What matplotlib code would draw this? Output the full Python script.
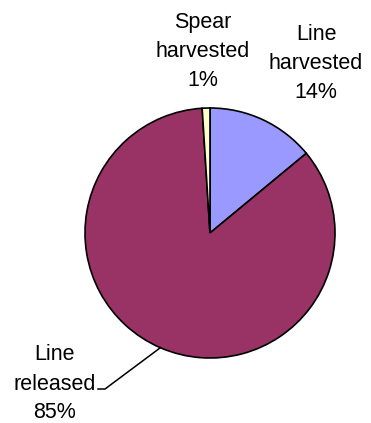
import numpy as np
import matplotlib.pyplot as plt

# Catch disposition shares (percent)
categories = ['Line harvested', 'Line released', 'Spear harvested']
shares = [14, 85, 1]
colors = ['#9999FF', '#993366', '#FFFFCC']

W, H = 371, 423
fig = plt.figure(figsize=(W / 100, H / 100), dpi=100)
ax = fig.add_axes([0, 0, 1, 1])

cx, cy, r = 210, H - 233, 125
wedges, _ = ax.pie(shares, colors=colors, startangle=90, counterclock=False,
                   center=(cx, cy), radius=r, frame=True,
                   wedgeprops=dict(edgecolor='black', linewidth=1.2))

ax.set_xlim(0, W)
ax.set_ylim(0, H)
ax.set_aspect('equal')
ax.axis('off')

font = dict(family='Liberation Sans', fontsize=15.5, ha='center', va='center',
            linespacing=1.5)
labels = [f'{c.replace(" ", chr(10))}\n{v}%' for c, v in zip(categories, shares)]

# label centres in pixels from the top-left corner
label_xy = [(316, 63), (55, 384), (203, 51)]
for lab, (x, y) in zip(labels, label_xy):
    ax.text(x, H - y, lab, **font)

# leader from "Line released" to the middle of its wedge edge
w = wedges[1]
mid = np.deg2rad((w.theta1 + w.theta2) / 2)
ex, ey = cx + r * np.cos(mid), cy + r * np.sin(mid)
ax.plot([98, 105, ex], [H - 389, H - 389, ey], color='black', lw=1.1)

fig.savefig('out.png', dpi=100)
